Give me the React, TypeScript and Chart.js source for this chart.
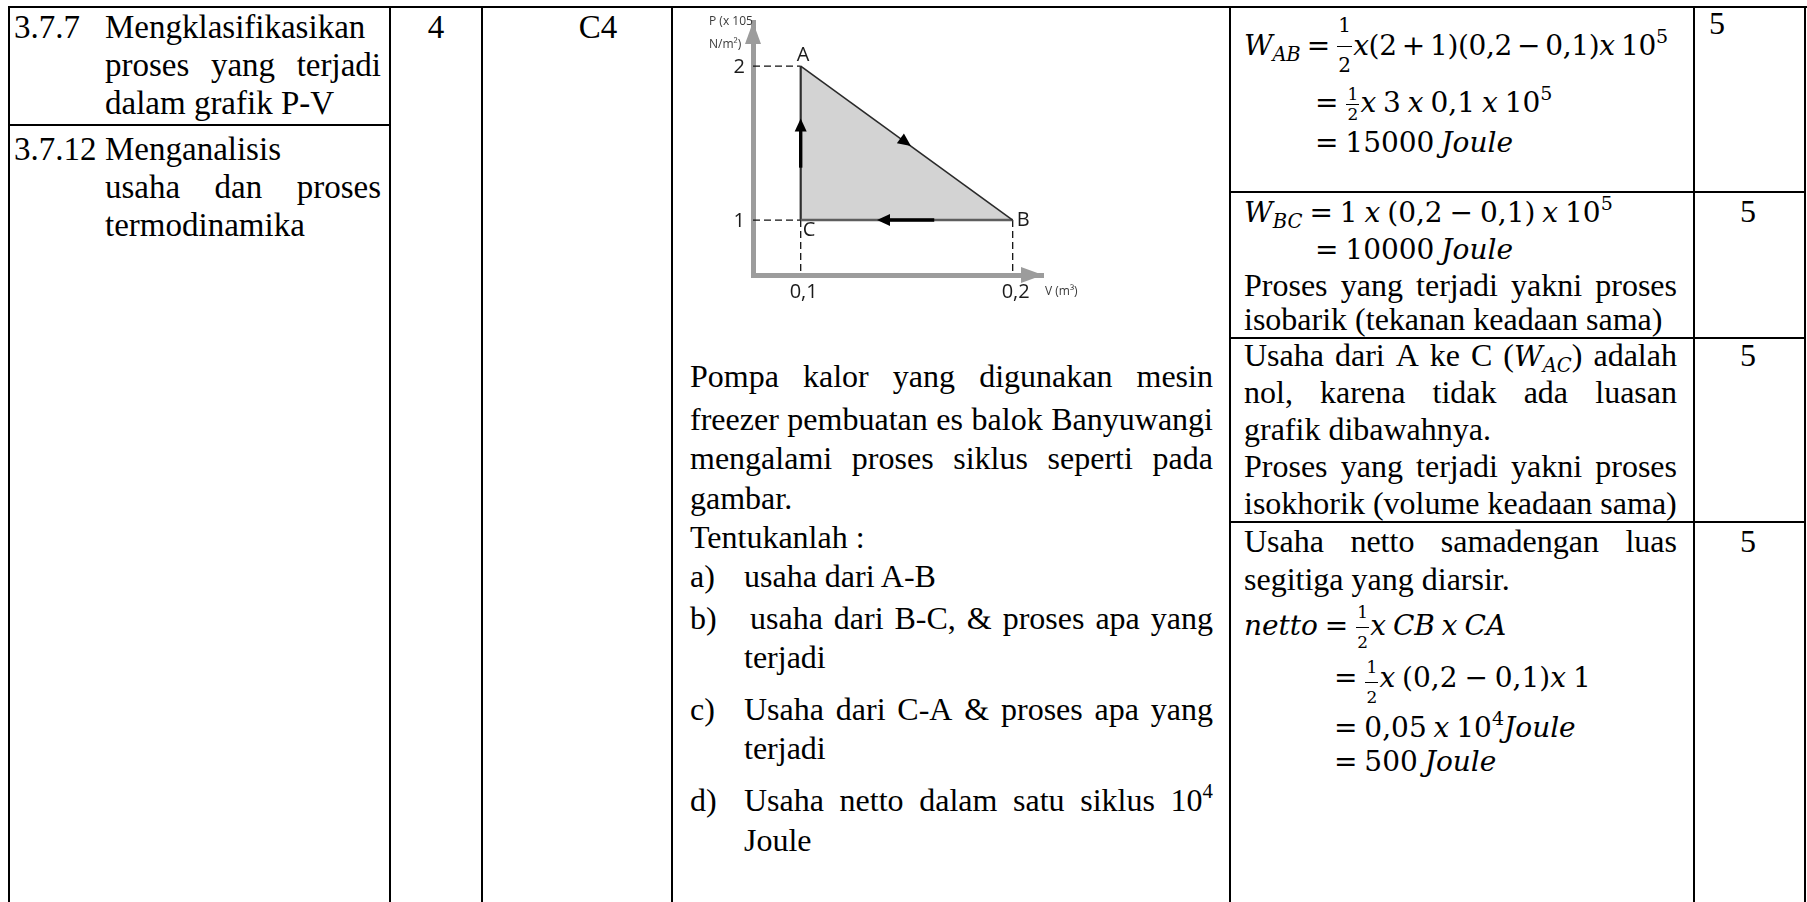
import React, { useEffect, useRef } from 'react';
import { Chart, registerables } from 'chart.js';

Chart.register(...registerables);

// ---------- chart data ----------
const stateLabels = ['A', 'B', 'C'];
const stateVolume = [0.1, 0.2, 0.1];
const statePressure = [2, 1, 1];
const volumeTicks = [0.1, 0.2];
const volumeTickLabels = ['0,1', '0,2'];
const pressureTicks = [1, 2];
const pressureTickLabels = ['1', '2'];
const volumeTitle = 'V (m³)';
const pressureTitle = ['P (x 105', 'N/m²)'];
const volumeRange = [0.0775, 0.2143];
const pressureRange = [0.643, 2.286];

const SERIF = '"Liberation Serif", "Times New Roman", serif';
const MATH = '"DejaVu Serif", serif';

function tri(ctx: CanvasRenderingContext2D, tx: number, ty: number, dx: number, dy: number, len: number, hw: number) {
  const n = Math.hypot(dx, dy);
  const ux = dx / n, uy = dy / n;
  const bx = tx - ux * len, by = ty - uy * len;
  ctx.beginPath();
  ctx.moveTo(tx, ty);
  ctx.lineTo(bx - uy * hw, by + ux * hw);
  ctx.lineTo(bx + uy * hw, by - ux * hw);
  ctx.closePath();
  ctx.fill();
}

function flow(ctx: CanvasRenderingContext2D, p0: any, p1: any, t: number, shaft: number[] | null) {
  const dx = p1.x - p0.x, dy = p1.y - p0.y;
  if (shaft) {
    ctx.lineWidth = 3.4;
    ctx.beginPath();
    ctx.moveTo(p0.x + dx * shaft[0], p0.y + dy * shaft[0]);
    ctx.lineTo(p0.x + dx * shaft[1], p0.y + dy * shaft[1]);
    ctx.stroke();
  }
  tri(ctx, p0.x + dx * t, p0.y + dy * t, dx, dy, 13, 6);
}

const pvDecor = {
  id: 'pvDecor',
  afterDatasetsDraw(chart: any) {
    const { ctx, chartArea: ca } = chart;
    const xs = chart.scales.x, ys = chart.scales.y;
    const P = (i: number) => ({ x: xs.getPixelForValue(stateVolume[i]), y: ys.getPixelForValue(statePressure[i]) });
    const a = P(0), b = P(1), c = P(2);
    ctx.save();
    ctx.fillStyle = '#9c9c9c';
    tri(ctx, ca.left, ca.top, 0, -1, 22, 8);
    tri(ctx, ca.right, ca.bottom, 1, 0, 22, 8);
    ctx.fillStyle = '#000';
    ctx.strokeStyle = '#000';
    flow(ctx, a, b, 0.52, null);
    flow(ctx, b, c, 0.64, [0.37, 0.6]);
    flow(ctx, c, a, 0.66, [0.34, 0.6]);
    ctx.fillStyle = '#1b1b1b';
    ctx.font = '20px "Open Sans"';
    ctx.textBaseline = 'middle';
    ctx.textAlign = 'right';
    pressureTicks.forEach((v, i) => ctx.fillText(pressureTickLabels[i], ca.left - 8, ys.getPixelForValue(v) + 1));
    ctx.textAlign = 'center';
    volumeTicks.forEach((v, i) => ctx.fillText(volumeTickLabels[i], xs.getPixelForValue(v) + 3, ca.bottom + 17));
    ctx.textAlign = 'left';
    ctx.fillText(stateLabels[0], a.x - 4, a.y - 11);
    ctx.fillText(stateLabels[1], b.x + 4, b.y);
    ctx.fillText(stateLabels[2], c.x + 2, c.y + 10);
    ctx.font = '12px "Open Sans"';
    ctx.fillStyle = '#3a3a3a';
    ctx.fillText(pressureTitle[0], ca.left - 44, ca.top);
    ctx.fillText(pressureTitle[1], ca.left - 44, ca.top + 23);
    ctx.fillText(volumeTitle, ca.right + 2, ca.bottom + 17);
    ctx.restore();
  },
};

function PVChart() {
  const ref = useRef<HTMLCanvasElement>(null);
  useEffect(() => {
    const canvas = ref.current as HTMLCanvasElement;
    const pts = stateLabels.map((_, i) => ({ x: stateVolume[i], y: statePressure[i] }));
    const [A, B, C] = pts;
    const vMin = volumeRange[0];
    const pMin = pressureRange[0];
    const edge = (data: any[], color: string, width: number) => ({
      data, borderColor: color, borderWidth: width, pointRadius: 0, fill: false, order: 1, tension: 0,
    });
    const guide = (data: any[]) => ({
      data, borderColor: '#111', borderWidth: 1.3, borderDash: [7, 4], pointRadius: 0, fill: false, order: 5,
    });
    const chart = new Chart(canvas, {
      type: 'line',
      data: {
        datasets: [
          {
            data: [A, B], fill: { value: C.y }, backgroundColor: '#d3d3d3', borderWidth: 1,
            borderColor: 'rgba(0,0,0,0)', pointRadius: 0, order: 10,
          } as any,
          guide([{ x: vMin, y: A.y }, A]),
          guide([{ x: vMin, y: C.y }, C]),
          guide([C, { x: C.x, y: pMin }]),
          guide([B, { x: B.x, y: pMin }]),
          edge([A, B], '#2a2a2a', 1.6),
          edge([B, C], '#5e5e5e', 2.6),
          edge([C, A], '#2e2e2e', 2.2),
        ],
      },
      options: {
        animation: false,
        responsive: false,
        maintainAspectRatio: false,
        devicePixelRatio: 1,
        events: [],
        layout: { padding: { left: 63, top: 14, right: 67, bottom: 35 } },
        plugins: { legend: { display: false }, tooltip: { enabled: false } },
        scales: {
          x: {
            type: 'linear', min: vMin, max: volumeRange[1],
            grid: { display: false, drawTicks: false },
            border: { display: true, color: '#9c9c9c', width: 5 },
            ticks: { display: false },
            afterBuildTicks: (s: any) => { s.ticks = volumeTicks.map((v) => ({ value: v })); },
          },
          y: {
            type: 'linear', min: pMin, max: pressureRange[1],
            grid: { display: false, drawTicks: false },
            border: { display: true, color: '#9c9c9c', width: 5 },
            ticks: { display: false },
            afterBuildTicks: (s: any) => { s.ticks = pressureTicks.map((v) => ({ value: v })); },
          },
        },
      } as any,
      plugins: [pvDecor],
    });
    return () => chart.destroy();
  }, []);
  return (
    <canvas
      ref={ref}
      width={420}
      height={302}
      style={{ position: 'absolute', left: 690, top: 8, width: 420, height: 302 }}
    />
  );
}

// ---------- text helpers ----------
function Txt({ x, base, w, size = 32, justify, parts, center }: any) {
  const L = Math.round(size * 1.15);
  const top = base - ((L - 1.107 * size) / 2 + 0.891 * size);
  const style: React.CSSProperties = {
    position: 'absolute', left: x, top, height: L, lineHeight: L + 'px', fontSize: size,
    fontFamily: SERIF, whiteSpace: 'pre', color: '#000',
  };
  if (center) {
    return <div style={{ ...style, left: x - 60, width: 120, textAlign: 'center' }}>{parts}</div>;
  }
  if (justify) {
    const items = typeof parts === 'string' ? parts.split(' ') : parts;
    return (
      <div style={{ ...style, width: w, display: 'flex', justifyContent: 'space-between', alignItems: 'baseline' }}>
        {items.map((p: any, i: number) => <span key={i}>{p}</span>)}
      </div>
    );
  }
  if (typeof parts === 'string') return <div style={style}>{parts}</div>;
  return <div style={style}>{parts.map((p: any, i: number) => <React.Fragment key={i}>{i ? ' ' : ''}{p}</React.Fragment>)}</div>;
}

function MathLn({ x, base, size = 28, ls = 0, children }: any) {
  const L = 37;
  const top = base - ((L - 1.164 * size) / 2 + 0.928 * size);
  return (
    <div style={{
      position: 'absolute', left: x, top, height: L, lineHeight: L + 'px', fontSize: size, fontFamily: MATH,
      whiteSpace: 'pre', color: '#000', wordSpacing: '-2px', letterSpacing: ls,
    }}>
      {children}
    </div>
  );
}

const I = ({ children }: any) => <span style={{ fontStyle: 'italic' }}>{children}</span>;
const Sub = ({ children }: any) => (
  <span style={{ fontSize: '0.7em', fontStyle: 'italic', position: 'relative', top: '0.32em' }}>{children}</span>
);
const Sup = ({ children }: any) => (
  <span style={{ fontSize: '0.68em', position: 'relative', top: '-0.6em' }}>{children}</span>
);
const M = ({ children }: any) => <span style={{ fontFamily: MATH, fontSize: 28 }}>{children}</span>;

function Frac({ n, d, nb, dt, bar, size = 19, w = 14 }: any) {
  return (
    <span style={{ display: 'inline-block', position: 'relative', width: w, height: 0, verticalAlign: 'baseline', margin: '0 1px' }}>
      <span style={{ position: 'absolute', left: 0, right: 0, bottom: nb, textAlign: 'center', fontSize: size, lineHeight: 1, fontStyle: 'normal', letterSpacing: 0 }}>{n}</span>
      <span style={{ position: 'absolute', left: 0, right: 0, top: bar, height: 1.5, background: '#000' }} />
      <span style={{ position: 'absolute', left: 0, right: 0, top: dt, textAlign: 'center', fontSize: size, lineHeight: 1, fontStyle: 'normal', letterSpacing: 0 }}>{d}</span>
    </span>
  );
}

const VLINES = [9, 390, 482, 672, 1230, 1694, 1805];
const ROWLINES = [192, 338, 522];

export default function App() {
  const lineStyle = (l: number, t: number, w: number, h: number): React.CSSProperties => ({
    position: 'absolute', left: l, top: t, width: w, height: h, background: '#000',
  });
  return (
    <div style={{ position: 'absolute', left: 0, top: 0, width: 1807, height: 902, overflow: 'hidden', background: '#fff', color: '#000' }}>
      {/* table rules */}
      <div style={lineStyle(8, 6, 1799, 2)} />
      {VLINES.map((x, i) => <div key={'v' + i} style={lineStyle(x - 1, 6, 2, 896)} />)}
      <div style={lineStyle(9, 124, 381, 2)} />
      {ROWLINES.map((y, i) => <div key={'h' + i} style={lineStyle(1230, y - 1, 576, 2)} />)}

      {/* column 1 */}
      <Txt x={14} base={38} size={33} parts="3.7.7" />
      <Txt x={105} base={38} size={33} parts="Mengklasifikasikan" />
      <Txt x={105} base={76} size={33} w={276} justify parts="proses yang terjadi" />
      <Txt x={105} base={114} size={33} parts="dalam grafik P-V" />
      <Txt x={14} base={160} size={33} parts="3.7.12" />
      <Txt x={105} base={160} size={33} parts="Menganalisis" />
      <Txt x={105} base={198} size={33} w={276} justify parts="usaha dan proses" />
      <Txt x={105} base={236} size={33} parts="termodinamika" />

      {/* columns 2, 3 */}
      <Txt x={436} base={38} size={33} center parts="4" />
      <Txt x={598} base={38} size={33} center parts="C4" />

      {/* column 4 : chart + question */}
      <PVChart />
      <Txt x={690} base={387} w={523} justify parts="Pompa kalor yang digunakan mesin" />
      <Txt x={690} base={430} w={523} justify parts="freezer pembuatan es balok Banyuwangi" />
      <Txt x={690} base={469} w={523} justify parts="mengalami proses siklus seperti pada" />
      <Txt x={690} base={509} parts="gambar." />
      <Txt x={690} base={548} parts="Tentukanlah :" />
      <Txt x={690} base={587} parts="a)" />
      <Txt x={744} base={587} parts="usaha dari A-B" />
      <Txt x={690} base={629} parts="b)" />
      <Txt x={750} base={629} w={463} justify parts="usaha dari B-C, & proses apa yang" />
      <Txt x={744} base={668} parts="terjadi" />
      <Txt x={690} base={720} parts="c)" />
      <Txt x={744} base={720} w={469} justify parts="Usaha dari C-A & proses apa yang" />
      <Txt x={744} base={759} parts="terjadi" />
      <Txt x={690} base={811} parts="d)" />
      <Txt
        x={744} base={811} w={469} justify
        parts={['Usaha', 'netto', 'dalam', 'satu', 'siklus', <span>10<span style={{ fontSize: '0.65em', position: 'relative', top: '-0.6em' }}>4</span></span>]}
      />
      <Txt x={744} base={851} parts="Joule" />

      {/* column 5 : answers */}
      <MathLn x={1244} base={55} ls={-0.4}>
        <I>W</I><Sub>AB</Sub> = <Frac n="1" d="2" size={20} w={15} nb={20} dt={0} bar={-9} /><I>x</I>(2{'\u2009'}+{'\u2009'}1)(0,2{'\u2009'}−{'\u2009'}0,1)<I>x</I> 10<Sup>5</Sup>
      </MathLn>
      <MathLn x={1315} base={112}>
        = <Frac n="1" d="2" size={17} w={13} nb={9} dt={-6} bar={-8} /><I>x</I> 3 <I>x</I> 0,1 <I>x</I> 10<Sup>5</Sup>
      </MathLn>
      <MathLn x={1315} base={152}>
        = 15000 <I>Joule</I>
      </MathLn>

      <MathLn x={1244} base={222}>
        <I>W</I><Sub>BC</Sub> = 1 <I>x</I> (0,2 − 0,1) <I>x</I> 10<Sup>5</Sup>
      </MathLn>
      <MathLn x={1315} base={259}>
        = 10000 <I>Joule</I>
      </MathLn>
      <Txt x={1244} base={296} w={433} justify parts="Proses yang terjadi yakni proses" />
      <Txt x={1244} base={330} parts="isobarik (tekanan keadaan sama)" />

      <Txt
        x={1244} base={366} w={433} justify
        parts={['Usaha', 'dari', 'A', 'ke', 'C', <span>(<M><I>W</I><Sub>AC</Sub></M>)</span>, 'adalah']}
      />
      <Txt x={1244} base={403} w={433} justify parts="nol, karena tidak ada luasan" />
      <Txt x={1244} base={440} parts="grafik dibawahnya." />
      <Txt x={1244} base={477} w={433} justify parts="Proses yang terjadi yakni proses" />
      <Txt x={1244} base={514} parts="isokhorik (volume keadaan sama)" />

      <Txt x={1244} base={552} w={433} justify parts="Usaha netto samadengan luas" />
      <Txt x={1244} base={590} parts="segitiga yang diarsir." />
      <MathLn x={1244} base={635}>
        <I>netto</I> = <Frac n="1" d="2" size={17} w={13} nb={14} dt={-1} bar={-8} /><I>x CB x CA</I>
      </MathLn>
      <MathLn x={1334} base={687}>
        = <Frac n="1" d="2" size={17} w={13} nb={11} dt={2} bar={-5} /><I>x</I> (0,2 − 0,1)<I>x</I> 1
      </MathLn>
      <MathLn x={1334} base={737}>
        = 0,05 <I>x</I> 10<Sup>4</Sup><I>Joule</I>
      </MathLn>
      <MathLn x={1334} base={771}>
        = 500 <I>Joule</I>
      </MathLn>

      {/* column 6 : scores */}
      <Txt x={1709} base={34} parts="5" />
      <Txt x={1748} base={222} center parts="5" />
      <Txt x={1748} base={366} center parts="5" />
      <Txt x={1748} base={552} center parts="5" />
    </div>
  );
}
